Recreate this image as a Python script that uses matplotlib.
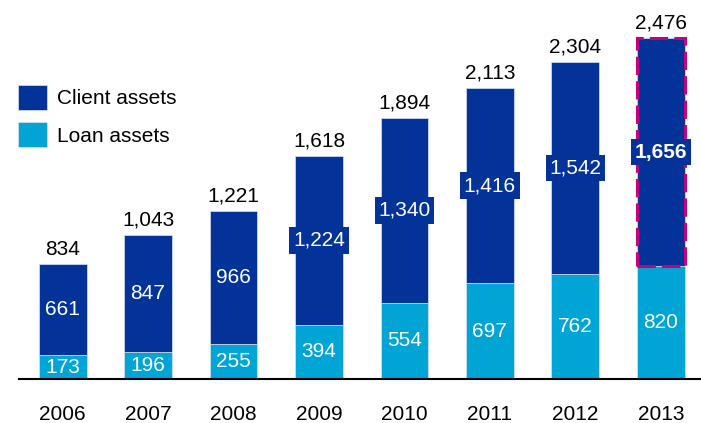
import matplotlib
matplotlib.use("Agg")
import matplotlib.pyplot as plt
from matplotlib.patches import Rectangle, Patch

plt.rcParams['font.family'] = ['Liberation Sans', 'DejaVu Sans']

years = ['2006', '2007', '2008', '2009', '2010', '2011', '2012', '2013']
loan_assets = [173, 196, 255, 394, 554, 697, 762, 820]
client_assets = [661, 847, 966, 1224, 1340, 1416, 1542, 1656]
totals = [834, 1043, 1221, 1618, 1894, 2113, 2304, 2476]

DARK = '#033399'
LIGHT = '#00a5d6'
MAGENTA = '#c4007c'
FS = 15

fig = plt.figure(figsize=(7.01, 4.23), dpi=100)
ax = fig.add_axes([19 / 701, 44 / 423, 682 / 701, 379 / 423])

x = list(range(len(years)))
width = 0.56
ax.bar(x, loan_assets, width, color=LIGHT, edgecolor='#d8e4f2', linewidth=0.5, zorder=2)
ax.bar(x, client_assets, width, bottom=loan_assets, color=DARK,
       edgecolor='#d8e4f2', linewidth=0.5, zorder=2)

for i in x:
    lo, cl, tot = loan_assets[i], client_assets[i], totals[i]
    # loan assets label
    ax.text(i, lo / 2, f'{lo:,}', ha='center', va='center', color='white',
            fontsize=FS, zorder=5)
    # client assets label; wide numbers get a backing box
    kw = dict(ha='center', va='center', color='white', fontsize=FS, zorder=6)
    if cl >= 1000:
        kw['bbox'] = dict(boxstyle='square,pad=0.18', facecolor=DARK, edgecolor='none')
    if i == len(years) - 1:
        kw['fontweight'] = 'bold'
    ax.text(i, lo + cl / 2, f'{cl:,}', **kw)
    # total above the bar
    ax.annotate(f'{tot:,}', (i, tot), xytext=(0, 4), textcoords='offset points',
                ha='center', va='bottom', fontsize=FS, color='black', zorder=5)

# highlight the latest client assets segment
last = len(years) - 1
ax.add_patch(Rectangle((last - width / 2, loan_assets[last]), width, client_assets[last],
                       fill=False, edgecolor=MAGENTA, linewidth=2.2,
                       linestyle=(0, (6, 2)), zorder=4))

ax.set_xlim(-0.51, 7.47)
ax.set_ylim(0, 2752)
ax.set_xticks(x)
ax.set_xticklabels(years, fontsize=FS)
ax.tick_params(axis='x', length=0, pad=19)
ax.set_yticks([])
for s in ('top', 'right', 'left'):
    ax.spines[s].set_visible(False)
ax.spines['bottom'].set_linewidth(1.5)
ax.spines['bottom'].set_color('black')

handles = [Patch(facecolor=DARK, edgecolor='#d8e4f2', linewidth=0.5, label='Client assets'),
           Patch(facecolor=LIGHT, edgecolor='#d8e4f2', linewidth=0.5, label='Loan assets')]
fig.legend(handles=handles, loc='upper left', bbox_to_anchor=(14 / 701, 1 - 81 / 423),
           frameon=False, fontsize=FS, handlelength=1.4, handleheight=1.45,
           handletextpad=0.45, labelspacing=0.6, borderpad=0.2, borderaxespad=0)

fig.savefig('out.png', dpi=100)
